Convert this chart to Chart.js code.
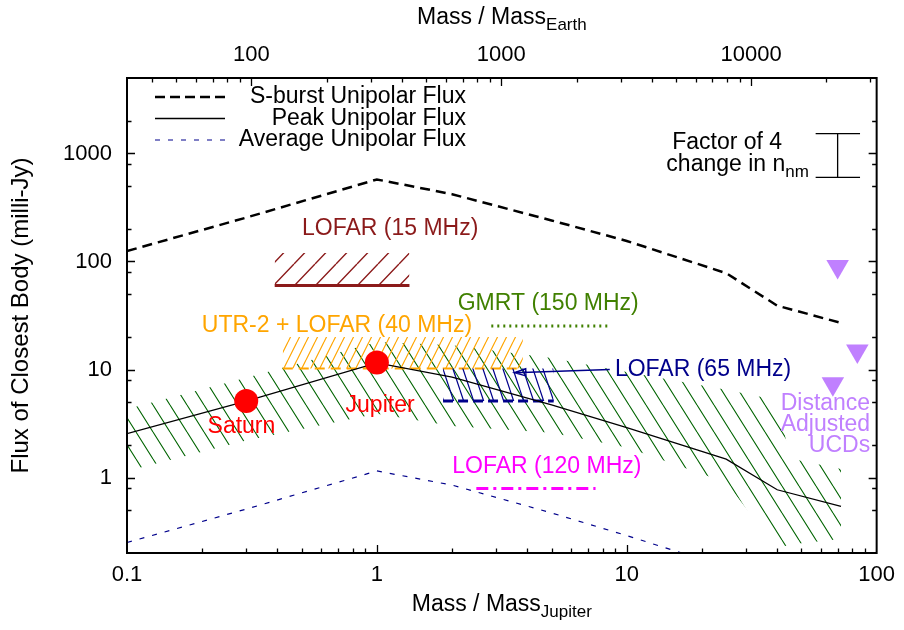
<!DOCTYPE html>
<html>
<head>
<meta charset="utf-8">
<script src="https://cdn.jsdelivr.net/npm/chart.js@4.4.1/dist/chart.umd.min.js"></script>
<style>
  html, body { margin: 0; padding: 0; background: #fff; }
  #wrap { width: 904px; height: 630px; }
</style>
</head>
<body>
<div id="wrap"><canvas id="chart" width="904" height="630"></canvas></div>
<script>
// mass in Jupiter masses, flux in milli-Jy
const masses = [0.1, 0.3, 1, 2, 5, 10, 25, 40, 72];
const sburstFlux = [125, 255, 575, 420, 240, 155, 78, 39, 27];
const peakFlux = [2.55, 5.1, 11.5, 8.5, 4.7, 2.9, 1.48, 0.77, 0.54];
const averageFlux = [0.25, 0.51, 1.15, 0.85, 0.47, 0.29, 0.148, 0.077, 0.054];

// hatched band round the peak flux
const bandMass = [0.1, 0.3, 1, 2, 5, 10, 25, 40, 45, 72];
const bandUpper = [4.3, 8.4, 18, 16.8, 12.8, 9.5, 6.5, 5.2, 1.5, 1.2];
const bandLower = [1.15, 2.2, 3.9, 3.0, 2.6, 1.9, 0.9, 0.22, 0.24, 0.27];

const planetMass = [0.3, 1];
const planetFlux = [5.1, 11.6];
const ucdMass = [69.8, 83.7, 66.8];
const ucdFlux = [90, 14.8, 7.4];

// observation limits: mass range, limit, top of hatch
const lofar15Mass = [0.39, 1.35];
const lofar15Limit = 60, lofar15Top = 120;
const utr2Mass = [0.42, 3.84];
const utr2Limit = 10.2, utr2Top = 20;
const lofar65Mass = [1.84, 5.1];
const lofar65Limit = 5.1, lofar65Top = 10.2;
const gmrtMass = [2.87, 8.4];
const gmrtLimit = 25.3;
const lofar120Mass = [2.5, 7.5];
const lofar120Limit = 0.79;

// "factor of 4" bar
const barMass = 69.8, barCapMass = [57, 85.8];
const barFlux = [600, 1530];

// tick labels
const xTickValues = [0.1, 1, 10, 100];
const xTickLabels = ['0.1', '1', '10', '100'];
const x2TickValues = [100, 1000, 10000];
const x2TickLabels = ['100', '1000', '10000'];
const yTickValues = [1, 10, 100, 1000];
const yTickLabels = ['1', '10', '100', '1000'];
const earthPerJupiter = 317.8;

const family = '"Liberation Sans", Arial, Helvetica, sans-serif';
const fontSize = 23, subSize = 17;

const notes = [
  { text: [['LOFAR (15 MHz)']], x: 1.13, y: 203, color: '#8b1a1a', align: 'center' },
  { text: [['UTR-2 + LOFAR (40 MHz)']], x: 0.692, y: 25.3, color: '#ffa500', align: 'center' },
  { text: [['GMRT (150 MHz)']], x: 4.85, y: 40.4, color: '#408000', align: 'center' },
  { text: [['LOFAR (65 MHz)']], x: 20.2, y: 10, color: '#00008b', align: 'center' },
  { text: [['LOFAR (120 MHz)']], x: 4.79, y: 1.26, color: '#ff00ff', align: 'center' },
  { text: [['Saturn']], x: 0.287, y: 2.95, color: '#ff0000', align: 'center' },
  { text: [['Jupiter']], x: 1.03, y: 4.59, color: '#ff0000', align: 'center' },
  { text: [['Distance']], x: 94.2, y: 4.86, color: '#c080ff', align: 'right' },
  { text: [['Adjusted']], x: 94.2, y: 3.06, color: '#c080ff', align: 'right' },
  { text: [['UCDs']], x: 94.2, y: 1.96, color: '#c080ff', align: 'right' },
  { text: [['Factor of 4']], x: 15.2, y: 1259, color: '#000', align: 'left' },
  { text: [['change in n'], ['nm', true]], x: 14.4, y: 783, color: '#000', align: 'left' }
];

const legendItems = [
  { text: 'S-burst Unipolar Flux', color: '#000', width: 2.5, dash: [10, 5] },
  { text: 'Peak Unipolar Flux', color: '#000', width: 1.3, dash: [] },
  { text: 'Average Unipolar Flux', color: '#00008b', width: 1.2, dash: [5, 8] }
];

function hatch(color, w, h, dir, lw) {
  const c = document.createElement('canvas');
  c.width = w;
  c.height = h;
  const g = c.getContext('2d');
  g.strokeStyle = color;
  g.lineWidth = lw;
  g.beginPath();
  for (let k = -1; k <= 1; k++) {
    if (dir === '/') { g.moveTo(k * w, h); g.lineTo((k + 1) * w, 0); }
    else { g.moveTo(k * w, 0); g.lineTo((k + 1) * w, h); }
  }
  g.stroke();
  return g.createPattern(c, 'repeat');
}

const pts = (xs, ys) => xs.map((x, i) => ({ x: x, y: ys[i] }));
const flat = (xs, y) => xs.map(x => ({ x: x, y: y }));

function richText(ctx, parts, x, y, align, size) {
  const big = size || fontSize;
  let total = 0;
  parts.forEach(p => {
    ctx.font = (p[1] ? subSize : big) + 'px ' + family;
    total += ctx.measureText(p[0]).width;
  });
  let cx = align === 'center' ? x - total / 2 : align === 'right' ? x - total : x;
  ctx.textAlign = 'left';
  ctx.textBaseline = 'middle';
  parts.forEach(p => {
    ctx.font = (p[1] ? subSize : big) + 'px ' + family;
    ctx.fillText(p[0], cx, y + (p[1] ? 7 : 0));
    cx += ctx.measureText(p[0]).width;
  });
}

const line = (data, color, width, dash) => ({
  data: data, borderColor: color, borderWidth: width, borderDash: dash || [],
  pointRadius: 0, fill: false
});

const datasets = [
  { data: pts(planetMass, planetFlux), showLine: false, pointRadius: 12,
    pointBackgroundColor: '#ff0000', pointBorderWidth: 0 },
  { data: pts(ucdMass, ucdFlux), showLine: false, pointStyle: 'triangle', pointRotation: 180,
    pointRadius: 13, pointBackgroundColor: '#c080ff', pointBorderWidth: 0 },
  line(pts([barMass, barMass], barFlux), '#000', 1.3),
  line(flat(barCapMass, barFlux[0]), '#000', 1.3),
  line(flat(barCapMass, barFlux[1]), '#000', 1.3),
  line(pts(masses, sburstFlux), '#000', 2.5, [10, 6]),
  line(pts(masses, peakFlux), '#000', 1.3),
  line(pts(masses, averageFlux), '#00008b', 1.2, [5, 8]),
  line(flat(gmrtMass, gmrtLimit), '#408000', 3, [2, 4]),
  line(flat(lofar120Mass, lofar120Limit), '#ff00ff', 3, [12, 5, 3, 5]),
  Object.assign(line(flat(lofar65Mass, lofar65Limit), '#00008b', 3, [10, 5]),
    { fill: { value: lofar65Top }, backgroundColor: hatch('#00008b', 10, 30, '\\', 1.2) }),
  Object.assign(line(flat(utr2Mass, utr2Limit), '#ffa500', 2, [10, 6]),
    { fill: { value: utr2Top }, backgroundColor: hatch('#ffa500', 9, 18, '/', 1.2) }),
  Object.assign(line(flat(lofar15Mass, lofar15Limit), '#8b1a1a', 3),
    { fill: { value: lofar15Top }, backgroundColor: hatch('#8b1a1a', 21, 22, '/', 1.4) }),
  line(pts(bandMass, bandUpper), 'rgba(0,0,0,0)', 0),
  Object.assign(line(pts(bandMass, bandLower), 'rgba(0,0,0,0)', 0),
    { fill: '-1', backgroundColor: hatch('#006400', 17, 27, '\\', 1.1) })
];

function minors(lo, hi, mults) {
  const out = [];
  for (let d = Math.floor(Math.log10(lo)); d <= Math.ceil(Math.log10(hi)); d++) {
    mults.forEach(m => {
      const v = m * Math.pow(10, d);
      if (v > lo * 1.0001 && v < hi * 0.9999) out.push(v);
    });
  }
  return out;
}

const framePlugin = {
  id: 'frame',
  afterDatasetsDraw(chart) {
    const ctx = chart.ctx, a = chart.chartArea;
    const sx = chart.scales.x, sx2 = chart.scales.x2, sy = chart.scales.y;
    ctx.save();
    ctx.strokeStyle = '#000';
    ctx.lineWidth = 1.3;
    ctx.beginPath();
    minors(0.1, 100, [1, 2, 3, 4, 5, 6, 7, 8, 9]).forEach(v => {
      const p = Math.round(sx.getPixelForValue(v)) + 0.5;
      const len = xTickValues.includes(v) ? 8 : 4.5;
      ctx.moveTo(p, a.bottom); ctx.lineTo(p, a.bottom - len);
    });
    minors(0.1 * earthPerJupiter, 100 * earthPerJupiter, [1, 2, 3, 4, 5, 6, 7, 8, 9]).forEach(v => {
      const p = Math.round(sx2.getPixelForValue(v)) + 0.5;
      const len = x2TickValues.includes(v) ? 8 : 4.5;
      ctx.moveTo(p, a.top); ctx.lineTo(p, a.top + len);
    });
    minors(0.2, 5000, [1, 2, 5, 8]).forEach(v => {
      const p = Math.round(sy.getPixelForValue(v)) + 0.5;
      const len = yTickValues.includes(v) ? 8 : 4.5;
      ctx.moveTo(a.left, p); ctx.lineTo(a.left + len, p);
      ctx.moveTo(a.right, p); ctx.lineTo(a.right - len, p);
    });
    ctx.stroke();
    ctx.lineWidth = 2;
    ctx.strokeRect(a.left, a.top, a.right - a.left, a.bottom - a.top);

    // arrow to the LOFAR 65 MHz box
    const ax0 = sx.getPixelForValue(8.55), ay0 = sy.getPixelForValue(10.0);
    const ax1 = sx.getPixelForValue(3.55), ay1 = sy.getPixelForValue(9.34);
    const ang = Math.atan2(ay1 - ay0, ax1 - ax0);
    ctx.strokeStyle = '#00008b';
    ctx.lineWidth = 1.4;
    ctx.beginPath();
    ctx.moveTo(ax0, ay0); ctx.lineTo(ax1, ay1);
    ctx.moveTo(ax1 - 12 * Math.cos(ang - 0.3), ay1 - 12 * Math.sin(ang - 0.3));
    ctx.lineTo(ax1, ay1);
    ctx.lineTo(ax1 - 12 * Math.cos(ang + 0.3), ay1 - 12 * Math.sin(ang + 0.3));
    ctx.closePath();
    ctx.stroke();

    // annotations
    notes.forEach(n => {
      ctx.fillStyle = n.color;
      richText(ctx, n.text, sx.getPixelForValue(n.x), sy.getPixelForValue(n.y), n.align);
    });

    // legend
    legendItems.forEach((it, i) => {
      const y = 97 + i * 21.5;
      ctx.strokeStyle = it.color;
      ctx.lineWidth = it.width;
      ctx.setLineDash(it.dash);
      ctx.beginPath();
      ctx.moveTo(155, y); ctx.lineTo(225, y);
      ctx.stroke();
      ctx.setLineDash([]);
      ctx.fillStyle = '#000';
      richText(ctx, [[it.text]], 466, y, 'right');
    });

    // axis titles
    ctx.fillStyle = '#000';
    const cx = (a.left + a.right) / 2;
    richText(ctx, [['Mass / Mass'], ['Jupiter', true]], cx, 605, 'center');
    richText(ctx, [['Mass / Mass'], ['Earth', true]], cx, 18, 'center');
    ctx.save();
    ctx.translate(21, (a.top + a.bottom) / 2);
    ctx.rotate(-Math.PI / 2);
    richText(ctx, [['Flux of Closest Body (milli-Jy)']], 0, 0, 'center', 24);
    ctx.restore();
    ctx.restore();
  }
};

const tickFont = { family: family, size: 22 };
function logAxis(position, min, max, values, labels, pad, fit) {
  return {
    type: 'logarithmic', position: position, min: min, max: max,
    grid: { display: false, drawTicks: false }, border: { display: false },
    afterBuildTicks: s => { s.ticks = values.map(v => ({ value: v })); },
    afterFit: fit,
    ticks: { autoSkip: false, maxRotation: 0, padding: pad, color: '#000', font: tickFont,
      callback: (v, i) => labels[i] }
  };
}

new Chart(document.getElementById('chart'), {
  type: 'line',
  data: { datasets: datasets },
  options: {
    responsive: false,
    animation: false,
    layout: { padding: { right: 27, left: 0, top: 0, bottom: 0 } },
    plugins: { legend: { display: false }, tooltip: { enabled: false } },
    scales: {
      x: logAxis('bottom', 0.1, 100, xTickValues, xTickLabels, 9, s => { s.height = 77; }),
      x2: logAxis('top', 0.1 * earthPerJupiter, 100 * earthPerJupiter, x2TickValues, x2TickLabels, 10, s => { s.height = 78; }),
      y: logAxis('left', 0.2, 5000, yTickValues, yTickLabels, 15, s => { s.width = 127; })
    }
  },
  plugins: [framePlugin]
});
</script>
</body>
</html>
